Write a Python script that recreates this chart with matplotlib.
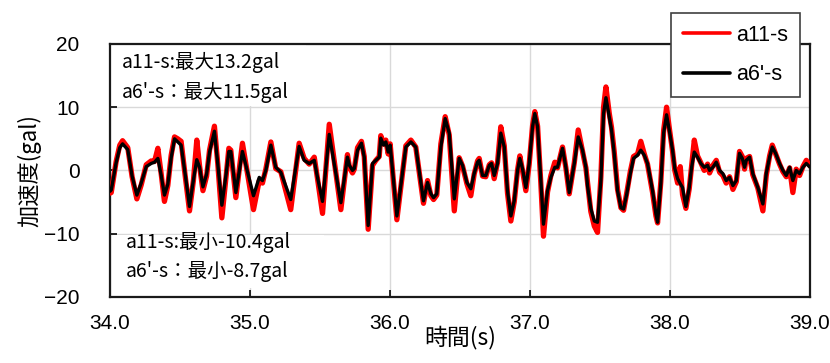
import numpy as np
import matplotlib.pyplot as plt
from matplotlib.patches import Rectangle

plt.rcParams['font.family'] = ['Liberation Sans', 'Noto Sans CJK JP', 'DejaVu Sans']

# time (s) and acceleration (gal) for the two records
time_s = [
    34.000, 34.009, 34.044, 34.070, 34.090, 34.127, 34.158, 34.192, 34.223, 34.259,
    34.294, 34.318, 34.342, 34.366, 34.389, 34.413, 34.437, 34.461, 34.484, 34.508,
    34.539, 34.568, 34.596, 34.620, 34.640, 34.664, 34.690, 34.711, 34.746, 34.770,
    34.799, 34.830, 34.849, 34.863, 34.899, 34.946, 35.025, 35.066, 35.089, 35.113,
    35.149, 35.184, 35.220, 35.291, 35.351, 35.387, 35.423, 35.459, 35.482, 35.518,
    35.566, 35.649, 35.696, 35.710, 35.732, 35.745, 35.768, 35.796, 35.816, 35.844,
    35.875, 35.899, 35.923, 35.934, 35.954, 35.970, 35.987, 36.001, 36.049, 36.113,
    36.149, 36.184, 36.239, 36.268, 36.292, 36.311, 36.334, 36.363, 36.394, 36.423,
    36.459, 36.494, 36.518, 36.549, 36.577, 36.601, 36.625, 36.637, 36.661, 36.684,
    36.709, 36.725, 36.744, 36.768, 36.791, 36.816, 36.839, 36.863, 36.887, 36.911,
    36.927, 36.946, 36.970, 36.994, 37.018, 37.034, 37.054, 37.077, 37.096, 37.125,
    37.149, 37.177, 37.196, 37.232, 37.256, 37.280, 37.316, 37.344, 37.375, 37.399,
    37.411, 37.434, 37.459, 37.482, 37.506, 37.525, 37.542, 37.566, 37.582, 37.601,
    37.625, 37.649, 37.668, 37.691, 37.716, 37.739, 37.768, 37.791, 37.816, 37.839,
    37.875, 37.899, 37.911, 37.934, 37.954, 37.975, 37.994, 38.018, 38.034, 38.054,
    38.073, 38.089, 38.113, 38.137, 38.154, 38.173, 38.196, 38.220, 38.244, 38.268,
    38.282, 38.306, 38.330, 38.354, 38.377, 38.401, 38.425, 38.449, 38.473, 38.496,
    38.516, 38.532, 38.544, 38.568, 38.591, 38.627, 38.663, 38.687, 38.711, 38.730,
    38.754, 38.782, 38.806, 38.830, 38.854, 38.877, 38.901, 38.925, 38.949, 38.973,
    39.000,
]

a11_s = [
    -3.6, -3.5, 1.4, 4.0, 4.7, 3.6, -1.0, -4.5, -2.3, 0.9,
    1.5, 1.4, 3.5, -0.6, -4.9, -2.4, 2.4, 5.3, 5.0, 4.6,
    -1.2, -6.4, -1.6, 4.8, 0.7, -3.2, -0.9, 3.2, 7.0, 1.0,
    -7.5, -0.8, 3.5, 3.2, -4.3, 4.3, -6.2, -1.6, -2.0, 0.2,
    4.5, 0.3, -0.2, -6.2, 4.3, 1.9, 1.0, 2.1, -1.3, -6.8,
    7.3, -6.2, 2.5, 0.5, -0.4, 0.2, 3.6, 4.6, 2.2, -9.3,
    0.8, 1.6, 2.2, 5.5, 4.2, 4.8, 2.6, 4.2, -7.8, 3.9,
    4.8, 3.7, -5.2, -1.6, -4.0, -4.6, -3.9, 4.2, 8.5, 5.6,
    -6.4, 2.0, 0.7, -2.1, -4.0, -0.6, 1.5, 1.9, -0.9, -1.0,
    0.9, 1.2, -1.3, 1.3, 6.9, 3.9, -3.6, -8.0, -5.0, 0.1,
    2.3, 0.0, -3.2, 1.0, 7.1, 9.3, 7.0, -2.0, -10.4, -3.4,
    -0.8, 1.3, 0.4, 3.7, 0.4, -3.7, 1.2, 6.4, 3.0, 0.4,
    -2.0, -6.5, -8.8, -9.8, -1.0, 10.0, 13.2, 9.0, 6.8, 3.0,
    -3.0, -5.9, -6.3, -3.5, -0.2, 2.2, 2.6, 4.6, 2.6, 1.0,
    -3.5, -7.2, -8.3, -1.8, 6.3, 10.0, 6.8, 3.0, 0.0, -2.0,
    0.6, -3.8, -6.0, -2.9, 0.8, 4.8, 2.3, 1.2, 0.0, 1.0,
    -0.4, 0.8, 1.6, -0.3, -0.8, -2.0, -1.0, -3.0, -1.8, 3.0,
    2.2, 0.2, 1.9, 2.2, -0.7, -2.8, -6.4, -0.8, 2.3, 4.0,
    2.6, 1.0, -0.2, -1.0, 0.4, -3.5, 0.2, -0.8, 0.6, 1.6,
    0.7,
]

a6_s = [
    -3.3, -3.1, 1.2, 3.6, 4.2, 3.3, -0.9, -3.9, -2.0, 0.6,
    1.1, 1.3, 1.9, -0.8, -3.9, -2.2, 2.0, 5.0, 4.5, 4.0,
    -0.9, -5.7, -1.5, 1.7, 0.5, -2.6, -0.6, 2.9, 6.2, 1.0,
    -5.5, -0.5, 3.0, 3.0, -3.5, 3.0, -4.0, -1.1, -1.6, 0.0,
    4.0, 0.5, -0.3, -4.6, 3.8, 1.6, 1.1, 1.6, -1.1, -4.9,
    5.7, -5.1, 2.1, 0.8, 0.0, 0.3, 3.2, 4.3, 2.1, -8.7,
    1.1, 1.6, 2.1, 5.1, 4.0, 4.5, 2.9, 4.0, -7.2, 3.7,
    4.5, 3.7, -4.8, -1.9, -3.7, -4.3, -3.7, 3.7, 8.2, 5.9,
    -4.5, 1.9, 0.8, -1.9, -2.9, -0.5, 1.3, 1.6, -0.8, -0.8,
    0.8, 1.1, -0.8, 1.1, 5.9, 3.7, -3.2, -7.2, -4.8, 0.0,
    1.9, 0.3, -2.7, 1.1, 6.9, 9.0, 6.9, -1.6, -8.5, -3.2,
    -1.1, 0.5, 0.5, 3.5, 0.5, -3.5, 1.1, 5.3, 3.2, 0.5,
    -2.5, -6.0, -8.0, -8.2, -1.6, 9.0, 11.5, 8.5, 6.4, 2.7,
    -3.2, -5.9, -6.1, -3.7, -0.5, 1.9, 2.4, 3.2, 2.4, 1.1,
    -3.2, -6.9, -8.2, -2.1, 5.9, 8.8, 6.4, 3.2, 0.3, -1.3,
    -2.1, -2.7, -5.7, -2.7, 0.5, 2.9, 2.1, 1.1, 0.5, 0.8,
    0.0, 0.5, 1.3, 0.0, -0.5, -1.6, -1.1, -2.4, -1.6, 2.7,
    1.9, 0.5, 1.6, 2.1, -0.5, -2.7, -5.3, -0.5, 2.1, 3.7,
    2.7, 1.1, 0.0, -0.8, 0.5, -1.6, 0.0, -0.5, 0.5, 1.1,
    0.5,
]

yticks = [-20, -10, 0, 10, 20]
xticks = [34.0, 35.0, 36.0, 37.0, 38.0, 39.0]

fig = plt.figure(figsize=(8.3, 3.63), dpi=100)
ax = fig.add_axes([0.1325, 0.182, 0.8435, 0.697])

ax.plot(time_s, a11_s, color='#ff0000', lw=3.8, solid_joinstyle='round',
        solid_capstyle='round', label='a11-s', zorder=3)
ax.plot(time_s, a6_s, color='black', lw=2.4, solid_joinstyle='round',
        solid_capstyle='round', label="a6'-s", zorder=4)

ax.set_xlim(34, 39)
ax.set_ylim(-20, 20)
ax.set_xticks(xticks)
ax.set_xticklabels([f'{v:.1f}' for v in xticks])
ax.set_yticks(yticks)
ax.grid(True, color='#d9d9d9', lw=1.0)
ax.set_axisbelow(True)
ax.tick_params(direction='in', length=5, width=1.2, labelsize=15)
ax.tick_params(axis='y', pad=22)
ax.tick_params(axis='x', pad=12)
for sp in ax.spines.values():
    sp.set_linewidth(1.6)
    sp.set_color('#1a1a1a')

ax.set_xlabel('時間(s)', fontsize=16.5, family=['Noto Sans CJK JP'], labelpad=-5)
ax.set_ylabel('加速度(gal)', fontsize=16, family=['Noto Sans CJK JP'], labelpad=2)

# white panels behind the peak annotations
ax.add_patch(Rectangle((0.0, 0.756), 0.28, 0.244, transform=ax.transAxes,
                       facecolor='white', edgecolor='none', zorder=2))
ax.add_patch(Rectangle((0.005, 0.036), 0.30, 0.208, transform=ax.transAxes,
                       facecolor='white', edgecolor='none', zorder=2))

txt = dict(transform=ax.transAxes, fontsize=14, va='center', ha='left',
           family=['Noto Sans CJK JP'], zorder=5)
ax.text(0.017, 0.925, 'a11-s:最大13.2gal', **txt)
ax.text(0.017, 0.81, "a6'-s：最大11.5gal", **txt)
ax.text(0.022, 0.215, 'a11-s:最小-10.4gal', **txt)
ax.text(0.022, 0.102, "a6'-s：最小-8.7gal", **txt)

leg = ax.legend(loc='upper right', bbox_to_anchor=(0.986, 1.1225), borderaxespad=0,
                fontsize=15.5, handlelength=2.2, handletextpad=0.3, labelspacing=0.85,
                borderpad=0.55, fancybox=False, framealpha=1)
leg.get_frame().set_edgecolor('#404040')
leg.get_frame().set_linewidth(1.2)
for h in leg.get_lines():
    h.set_linewidth(2.6)
leg.set_zorder(10)

fig.savefig('out.png', dpi=100)
